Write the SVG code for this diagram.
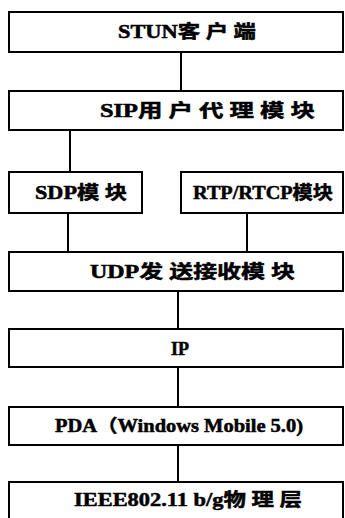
<svg xmlns="http://www.w3.org/2000/svg" width="345" height="518" viewBox="0 0 345 518">
<style>
.box{fill:#fff;stroke:#000;stroke-width:2}
.c{stroke:#000;stroke-width:2;fill:none}
.t{font-family:"Liberation Serif","Noto Sans CJK SC",serif;font-weight:bold;font-size:18px;fill:#000;stroke:#000;stroke-width:0.5}
</style>
<rect width="345" height="518" fill="#fff"/>
<g id="connectors">
<line class="c" x1="181" y1="52" x2="181" y2="91"/>
<line class="c" x1="70" y1="130" x2="70" y2="172"/>
<line class="c" x1="68" y1="213" x2="68" y2="252"/>
<line class="c" x1="247" y1="213" x2="247" y2="252"/>
<line class="c" x1="178" y1="291" x2="178" y2="329"/>
<line class="c" x1="178" y1="367" x2="178" y2="407"/>
<line class="c" x1="178" y1="445" x2="178" y2="482"/>
</g>
<g id="stun"><rect class="box" x="9" y="12" width="334" height="40"/><text class="t" x="118" y="38" textLength="138" lengthAdjust="spacingAndGlyphs">STUN客 户 端</text></g>
<g id="sip"><rect class="box" x="9" y="91" width="334" height="39"/><text class="t" x="100" y="117" textLength="215" lengthAdjust="spacingAndGlyphs">SIP用 户 代 理 模 块</text></g>
<g id="sdp"><rect class="box" x="9" y="172" width="133" height="41"/><text class="t" x="35" y="199" textLength="92" lengthAdjust="spacingAndGlyphs">SDP模 块</text></g>
<g id="rtp"><rect class="box" x="181" y="172" width="162" height="41"/><text class="t" x="193" y="199" textLength="140" lengthAdjust="spacingAndGlyphs">RTP/RTCP模块</text></g>
<g id="udp"><rect class="box" x="9" y="252" width="334" height="39"/><text class="t" x="90" y="278" textLength="205" lengthAdjust="spacingAndGlyphs">UDP发 送接收模 块</text></g>
<g id="ip"><rect class="box" x="9" y="329" width="334" height="38"/><text class="t" x="180" y="355" text-anchor="middle">IP</text></g>
<g id="pda"><rect class="box" x="9" y="407" width="334" height="38"/><text class="t" x="55" y="432" textLength="248" lengthAdjust="spacingAndGlyphs">PDA（Windows Mobile 5.0)</text></g>
<g id="ieee"><rect class="box" x="9" y="482" width="334" height="40"/><text class="t" x="74" y="506" textLength="228" lengthAdjust="spacingAndGlyphs">IEEE802.11 b/g物 理 层</text></g>
</svg>
